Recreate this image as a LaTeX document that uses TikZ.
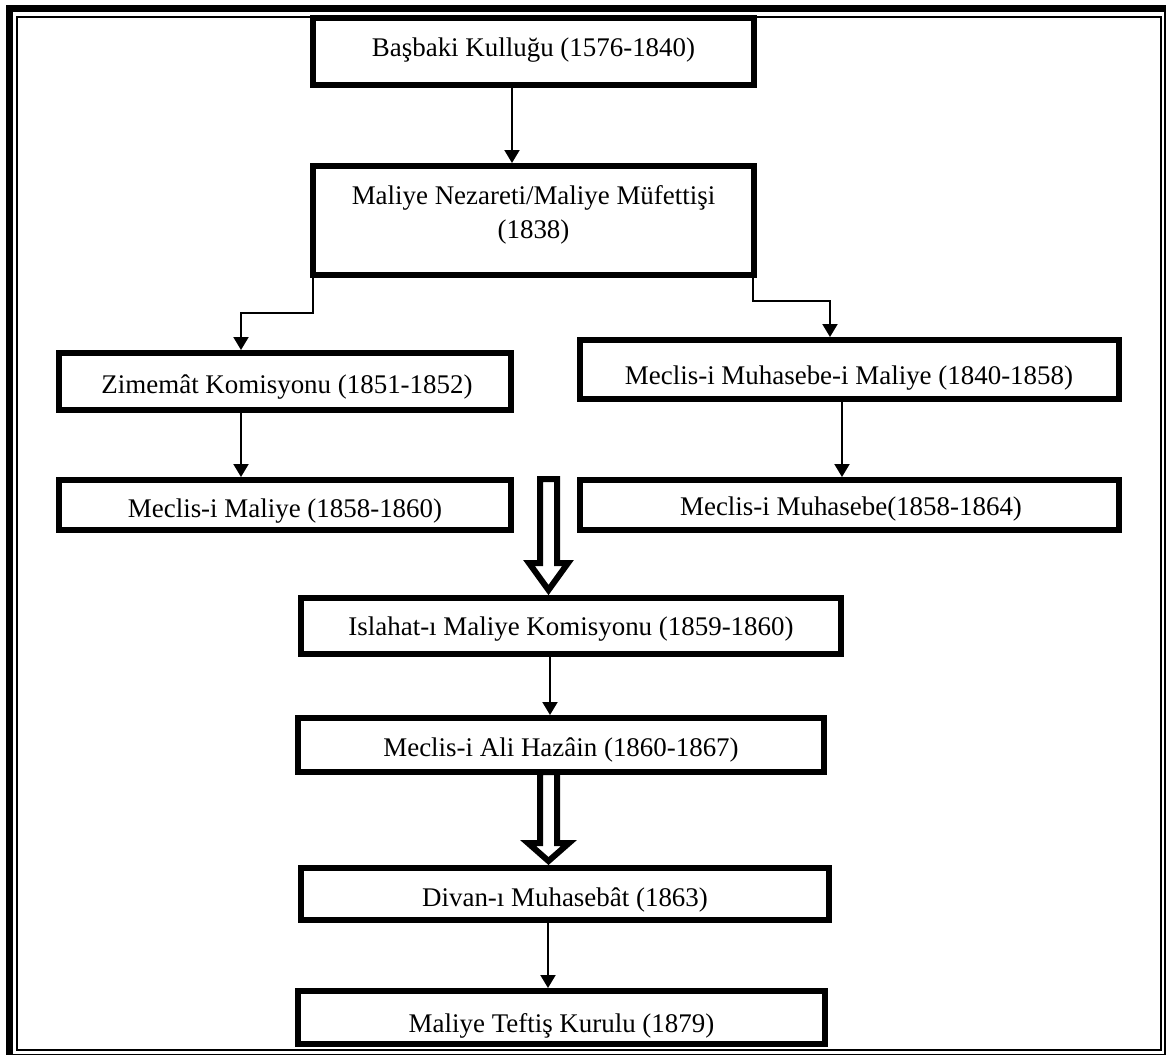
\documentclass[tikz,border=0pt]{standalone}
\usepackage{fontspec}
\setmainfont{Liberation Serif}
\usetikzlibrary{calc,arrows.meta}
\begin{document}
\begin{tikzpicture}[x=0.75pt,y=-0.75pt,
  boxst/.style={draw, line width=4.5pt, inner sep=0pt, outer sep=2.25pt},
  txt/.style={inner sep=0pt, font=\fontsize{20.2}{24}\selectfont},
  conn/.style={line width=1.5pt, -{Triangle[width=11.25pt,length=9.75pt]}},
  hollow/.style={line width=4.5pt, line join=miter},
  frameo/.style={line width=5.6pt},
  framei/.style={line width=1.5pt}]
\useasboundingbox (0,0) rectangle (1166,1054);
\clip (0,0) rectangle (1166,1054);
\draw[frameo] (9.5,8.5) rectangle (1167.8,1058);
\draw[framei] (16.5,16.5) rectangle (1160.5,1049.5);

\node[boxst, minimum width=330.75pt, minimum height=50.25pt] (b1) at (533.5,51.5) {};
\node[boxst, minimum width=330.75pt, minimum height=81.75pt] (b2) at (533.5,220.5) {};
\node[boxst, minimum width=339pt, minimum height=42.75pt] (zim) at (285,381.5) {};
\node[boxst, minimum width=339pt, minimum height=37.5pt] (mmal) at (285,505) {};
\node[boxst, minimum width=404.25pt, minimum height=44.25pt] (mmm) at (849.5,369.5) {};
\node[boxst, minimum width=404.25pt, minimum height=37.5pt] (mmh) at (849.5,505) {};
\node[boxst, minimum width=405pt, minimum height=42pt] (isl) at (571,626) {};
\node[boxst, minimum width=394.5pt, minimum height=40.5pt] (ali) at (561,745) {};
\node[boxst, minimum width=396pt, minimum height=39pt] (div) at (565,894) {};
\node[boxst, minimum width=395.25pt, minimum height=39.75pt] (tef) at (561.5,1017.5) {};

\node[txt, anchor=base] (t1) at (533.5,56) {Başbaki Kulluğu (1576-1840)};
\node[txt, anchor=base] (t2a) at (533.5,204) {Maliye Nezareti/Maliye Müfettişi};
\node[txt, anchor=base] (t2b) at (533.5,238) {(1838)};
\node[txt, anchor=base] (t3) at (287,393) {Zimemât Komisyonu (1851-1852)};
\node[txt, anchor=base] (t4) at (285,517) {Meclis-i Maliye (1858-1860)};
\node[txt, anchor=base] (t5) at (849,384) {Meclis-i Muhasebe-i Maliye (1840-1858)};
\node[txt, anchor=base] (t6) at (851,515) {Meclis-i Muhasebe(1858-1864)};
\node[txt, anchor=base] (t7) at (571,635) {Islahat-ı Maliye Komisyonu (1859-1860)};
\node[txt, anchor=base] (t8) at (561,756) {Meclis-i Ali Hazâin (1860-1867)};
\node[txt, anchor=base] (t9) at (565,906) {Divan-ı Muhasebât (1863)};
\node[txt, anchor=base] (t10) at (561.5,1032) {Maliye Teftiş Kurulu (1879)};

\draw[conn] ($(b1.south)+(-21.5,0)$) -- ($(b2.north)+(-21.5,0)$);
\draw[conn] ($(b2.south)+(-220.5,0)$) |- ($(zim.north)+(-44,-37)$) -- ($(zim.north)+(-44,0)$);
\draw[conn] ($(b2.south)+(219.5,0)$) |- ($(mmm.north)+(-19.5,-36)$) -- ($(mmm.north)+(-19.5,0)$);
\draw[conn] ($(zim.south)+(-44,0)$) -- ($(mmal.north)+(-44,0)$);
\draw[conn] ($(mmm.south)+(-7.5,0)$) -- ($(mmh.north)+(-7.5,0)$);
\draw[conn] ($(isl.south)+(-21,0)$) -- ($(ali.north)+(-11,0)$);
\draw[conn] ($(div.south)+(-17,0)$) -- ($(tef.north)+(-13.5,0)$);

\coordinate (h1) at ($(isl.north)+(-22.5,0)$);
\draw[hollow, shift={(h1)}] (-8.5,-116) -- (8.5,-116) -- (8.5,-32) -- (19.5,-32) -- (0,-5) -- (-19.5,-32) -- (-8.5,-32) -- cycle;
\coordinate (h2) at ($(div.north)+(-16.5,0)$);
\draw[hollow, shift={(h2)}] (-8.5,-93) -- (8.5,-93) -- (8.5,-22) -- (20.5,-22) -- (0,-4) -- (-20.5,-22) -- (-8.5,-22) -- cycle;
\end{tikzpicture}
\end{document}
